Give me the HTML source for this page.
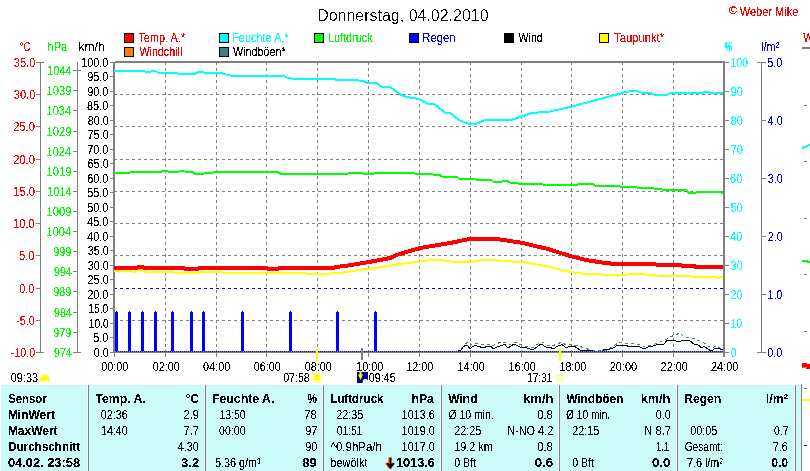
<!DOCTYPE html>
<html lang="de"><head><meta charset="utf-8"><title>Donnerstag, 04.02.2010</title>
<style>html,body{margin:0;padding:0;background:#fff;overflow:hidden}svg{display:block}text{font-family:"Liberation Sans",sans-serif;font-size:12px;white-space:pre}</style></head><body>
<svg width="810" height="471" viewBox="0 0 810 471">
<defs><filter id="cr" x="-5%" y="-20%" width="110%" height="140%" color-interpolation-filters="sRGB"><feComponentTransfer><feFuncA type="discrete" tableValues="0 0 1 1 1"/></feComponentTransfer></filter><filter id="cr2" x="-5%" y="-20%" width="110%" height="140%" color-interpolation-filters="sRGB"><feComponentTransfer><feFuncA type="discrete" tableValues="0 0 0 1 1"/></feComponentTransfer></filter></defs>
<rect x="0" y="0" width="810" height="471" fill="#ffffff" />
<g shape-rendering="crispEdges">
<line x1="165.5" y1="63" x2="165.5" y2="352" stroke="#808080" stroke-width="1" stroke-dasharray="3 3" stroke-dashoffset="1"/>
<line x1="216.5" y1="63" x2="216.5" y2="352" stroke="#808080" stroke-width="1" stroke-dasharray="3 3" stroke-dashoffset="1"/>
<line x1="266.5" y1="63" x2="266.5" y2="352" stroke="#808080" stroke-width="1" stroke-dasharray="3 3" stroke-dashoffset="1"/>
<line x1="317.5" y1="63" x2="317.5" y2="352" stroke="#808080" stroke-width="1" stroke-dasharray="3 3" stroke-dashoffset="1"/>
<line x1="368.5" y1="63" x2="368.5" y2="352" stroke="#808080" stroke-width="1" stroke-dasharray="3 3" stroke-dashoffset="1"/>
<line x1="419.5" y1="63" x2="419.5" y2="352" stroke="#808080" stroke-width="1" stroke-dasharray="3 3" stroke-dashoffset="1"/>
<line x1="470.5" y1="63" x2="470.5" y2="352" stroke="#808080" stroke-width="1" stroke-dasharray="3 3" stroke-dashoffset="1"/>
<line x1="521.5" y1="63" x2="521.5" y2="352" stroke="#808080" stroke-width="1" stroke-dasharray="3 3" stroke-dashoffset="1"/>
<line x1="571.5" y1="63" x2="571.5" y2="352" stroke="#808080" stroke-width="1" stroke-dasharray="3 3" stroke-dashoffset="1"/>
<line x1="622.5" y1="63" x2="622.5" y2="352" stroke="#808080" stroke-width="1" stroke-dasharray="3 3" stroke-dashoffset="1"/>
<line x1="673.5" y1="63" x2="673.5" y2="352" stroke="#808080" stroke-width="1" stroke-dasharray="3 3" stroke-dashoffset="1"/>
<line x1="115" y1="94.5" x2="723" y2="94.5" stroke="#808080" stroke-width="1" stroke-dasharray="3 3" stroke-dashoffset="1"/>
<line x1="115" y1="126.5" x2="723" y2="126.5" stroke="#808080" stroke-width="1" stroke-dasharray="3 3" stroke-dashoffset="1"/>
<line x1="115" y1="159.5" x2="723" y2="159.5" stroke="#808080" stroke-width="1" stroke-dasharray="3 3" stroke-dashoffset="1"/>
<line x1="115" y1="191.5" x2="723" y2="191.5" stroke="#808080" stroke-width="1" stroke-dasharray="3 3" stroke-dashoffset="1"/>
<line x1="115" y1="223.5" x2="723" y2="223.5" stroke="#808080" stroke-width="1" stroke-dasharray="3 3" stroke-dashoffset="1"/>
<line x1="115" y1="255.5" x2="723" y2="255.5" stroke="#808080" stroke-width="1" stroke-dasharray="3 3" stroke-dashoffset="1"/>
<line x1="115" y1="288.5" x2="723" y2="288.5" stroke="#0000ff" stroke-width="1" stroke-dasharray="3 3" stroke-dashoffset="1"/>
<line x1="115" y1="320.5" x2="723" y2="320.5" stroke="#808080" stroke-width="1" stroke-dasharray="3 3" stroke-dashoffset="1"/>
<rect x="40" y="62" width="1" height="291" fill="#808080" />
<rect x="36" y="352" width="8" height="1" fill="#808080" />
<rect x="36" y="320" width="4" height="1" fill="#808080" />
<rect x="36" y="288" width="4" height="1" fill="#808080" />
<rect x="36" y="255" width="4" height="1" fill="#808080" />
<rect x="36" y="223" width="4" height="1" fill="#808080" />
<rect x="36" y="191" width="4" height="1" fill="#808080" />
<rect x="36" y="159" width="4" height="1" fill="#808080" />
<rect x="36" y="126" width="4" height="1" fill="#808080" />
<rect x="36" y="94" width="4" height="1" fill="#808080" />
<rect x="36" y="62" width="8" height="1" fill="#808080" />
<rect x="77" y="62" width="1" height="291" fill="#808080" />
<rect x="73" y="352" width="8" height="1" fill="#808080" />
<rect x="73" y="332" width="4" height="1" fill="#808080" />
<rect x="73" y="312" width="4" height="1" fill="#808080" />
<rect x="73" y="291" width="4" height="1" fill="#808080" />
<rect x="73" y="271" width="4" height="1" fill="#808080" />
<rect x="73" y="251" width="4" height="1" fill="#808080" />
<rect x="73" y="231" width="4" height="1" fill="#808080" />
<rect x="73" y="211" width="4" height="1" fill="#808080" />
<rect x="73" y="191" width="4" height="1" fill="#808080" />
<rect x="73" y="171" width="4" height="1" fill="#808080" />
<rect x="73" y="151" width="4" height="1" fill="#808080" />
<rect x="73" y="131" width="4" height="1" fill="#808080" />
<rect x="73" y="110" width="4" height="1" fill="#808080" />
<rect x="73" y="90" width="4" height="1" fill="#808080" />
<rect x="73" y="70" width="8" height="1" fill="#808080" />
<rect x="110" y="352" width="3" height="1" fill="#808080" />
<rect x="110" y="337" width="3" height="1" fill="#808080" />
<rect x="110" y="323" width="3" height="1" fill="#808080" />
<rect x="110" y="308" width="3" height="1" fill="#808080" />
<rect x="110" y="294" width="3" height="1" fill="#808080" />
<rect x="110" y="279" width="3" height="1" fill="#808080" />
<rect x="110" y="265" width="3" height="1" fill="#808080" />
<rect x="110" y="250" width="3" height="1" fill="#808080" />
<rect x="110" y="236" width="3" height="1" fill="#808080" />
<rect x="110" y="221" width="3" height="1" fill="#808080" />
<rect x="110" y="207" width="3" height="1" fill="#808080" />
<rect x="110" y="192" width="3" height="1" fill="#808080" />
<rect x="110" y="178" width="3" height="1" fill="#808080" />
<rect x="110" y="163" width="3" height="1" fill="#808080" />
<rect x="110" y="149" width="3" height="1" fill="#808080" />
<rect x="110" y="134" width="3" height="1" fill="#808080" />
<rect x="110" y="120" width="3" height="1" fill="#808080" />
<rect x="110" y="105" width="3" height="1" fill="#808080" />
<rect x="110" y="91" width="3" height="1" fill="#808080" />
<rect x="110" y="76" width="3" height="1" fill="#808080" />
<rect x="110" y="62" width="3" height="1" fill="#808080" />
<rect x="725" y="352" width="4" height="1" fill="#808080" />
<rect x="725" y="323" width="4" height="1" fill="#808080" />
<rect x="725" y="294" width="4" height="1" fill="#808080" />
<rect x="725" y="265" width="4" height="1" fill="#808080" />
<rect x="725" y="236" width="4" height="1" fill="#808080" />
<rect x="725" y="207" width="4" height="1" fill="#808080" />
<rect x="725" y="178" width="4" height="1" fill="#808080" />
<rect x="725" y="149" width="4" height="1" fill="#808080" />
<rect x="725" y="120" width="4" height="1" fill="#808080" />
<rect x="725" y="91" width="4" height="1" fill="#808080" />
<rect x="725" y="62" width="4" height="1" fill="#808080" />
<rect x="761" y="62" width="1" height="291" fill="#808080" />
<rect x="757" y="352" width="9" height="1" fill="#808080" />
<rect x="762" y="294" width="4" height="1" fill="#808080" />
<rect x="762" y="236" width="4" height="1" fill="#808080" />
<rect x="762" y="178" width="4" height="1" fill="#808080" />
<rect x="762" y="120" width="4" height="1" fill="#808080" />
<rect x="757" y="62" width="9" height="1" fill="#808080" />
<rect x="114" y="353" width="1" height="4" fill="#808080" />
<rect x="165" y="353" width="1" height="4" fill="#808080" />
<rect x="216" y="353" width="1" height="4" fill="#808080" />
<rect x="266" y="353" width="1" height="4" fill="#808080" />
<rect x="317" y="353" width="1" height="4" fill="#808080" />
<rect x="368" y="353" width="1" height="4" fill="#808080" />
<rect x="419" y="353" width="1" height="4" fill="#808080" />
<rect x="470" y="353" width="1" height="4" fill="#808080" />
<rect x="521" y="353" width="1" height="4" fill="#808080" />
<rect x="571" y="353" width="1" height="4" fill="#808080" />
<rect x="622" y="353" width="1" height="4" fill="#808080" />
<rect x="673" y="353" width="1" height="4" fill="#808080" />
<rect x="724" y="353" width="1" height="4" fill="#808080" />
</g>
<g shape-rendering="crispEdges">
<rect x="113" y="62" width="2" height="291" fill="#808080" />
</g>
<g shape-rendering="crispEdges" stroke-linejoin="round">
<rect x="115.0" y="312" width="3" height="40" fill="#0000ff" />
<rect x="116.0" y="311" width="1" height="1" fill="#0000ff" />
<rect x="128.0" y="312" width="3" height="40" fill="#0000ff" />
<rect x="129.0" y="311" width="1" height="1" fill="#0000ff" />
<rect x="141.0" y="312" width="3" height="40" fill="#0000ff" />
<rect x="142.0" y="311" width="1" height="1" fill="#0000ff" />
<rect x="154.0" y="312" width="3" height="40" fill="#0000ff" />
<rect x="155.0" y="311" width="1" height="1" fill="#0000ff" />
<rect x="171.0" y="312" width="3" height="40" fill="#0000ff" />
<rect x="172.0" y="311" width="1" height="1" fill="#0000ff" />
<rect x="190.0" y="312" width="3" height="40" fill="#0000ff" />
<rect x="191.0" y="311" width="1" height="1" fill="#0000ff" />
<rect x="202.0" y="312" width="3" height="40" fill="#0000ff" />
<rect x="203.0" y="311" width="1" height="1" fill="#0000ff" />
<rect x="241.0" y="312" width="3" height="40" fill="#0000ff" />
<rect x="242.0" y="311" width="1" height="1" fill="#0000ff" />
<rect x="289.0" y="312" width="3" height="40" fill="#0000ff" />
<rect x="290.0" y="311" width="1" height="1" fill="#0000ff" />
<rect x="336.0" y="312" width="3" height="40" fill="#0000ff" />
<rect x="337.0" y="311" width="1" height="1" fill="#0000ff" />
<rect x="374.0" y="312" width="3" height="40" fill="#0000ff" />
<rect x="375.0" y="311" width="1" height="1" fill="#0000ff" />
<polyline points="462,349 465,344 468,342 472,345 476,343 482,345 487,344 492,346 496,344 501,342 506,343 510,345 514,342 519,344 524,346 530,347 534,347 538,344 542,342 547,345 552,346 557,344 562,342 566,345 571,344 578,346 585,348 590,350 600,351 608,350 612,347 615,345 619,342.5 625,343.5 635,344 640,344 644,347 650,345.5 655,344 660,342 665,340 670,337 675,335 680,333 684,337 690,337.5 695,339 700,341 704,343 708,346 712,348 716,346 720,348 723,348" fill="none" stroke="#408080" stroke-width="1" stroke-dasharray="3 3"/>
<polyline points="445,351.5 458,351 461,350 463,347 466,345 468,346 470,349 472,347 475,345.5 479,346.5 482,347.5 485,347.5 487,346 491,346 493,349 496,347.5 500,346 505,344.5 508,348 511,346 514,344 517,345.5 520,347 527,348 533,350 537,347 541,344 546,347 550,347 553,349 558,346 562,344.5 566,348 570,346 573,346 575,346.5 577,348 580,350 584,351 590,350 594,351.5 602,351.5 604,349.5 609,349.5 613,348 618,345 625,345.5 630,346.5 634,346.5 638,346 644,349 648,347 652,346.5 657,344.5 664,344 667,340.5 673,340 677,341.5 681,341 685,340 690,341 694,344 698,345 702,348 704,346 707,348.5 711,351 716,348 720,349 723,349.5" fill="none" stroke="#000000" stroke-width="1" />
<rect x="113" y="351" width="612" height="2" fill="#808080" />
<line x1="116" y1="351.5" x2="723" y2="351.5" stroke="#0000ff" stroke-width="1" stroke-dasharray="1 1"/>
<polyline points="114,71 144,71 146,72 150,72 152,71 155,71 158,72.5 160,73 177,73 179,74 195,74 198,72 203,72 205,73 221,73 224,74 228,75 230,75.5 283,75.5 287,77.5 292,78.5 333,78.5 338,80.5 342,80 358,80 360,81 364,81 367,83 377,83.5 381,86.5 390,87 401,95 407,97 416,98.5 421,100 428,104 434,104 445,112.5 450,113 459,120 469,124 476,124 484,120.5 511,120 532,113 550,111.5 574,106 600,99 622,93 629,91.5 637,91 642,93 651,93 655,95 667,95 670,93.5 690,93 700,93 707,92 712,93 723,93.5" fill="none" stroke="#00ffff" stroke-width="2" />
<polyline points="114,173 129,173 131,172 161,172 163,171 167,171 169,172 178,172 180,171 184,171 186,172 193,172 195,174 203,174 205,173 212,173 214,172 278,172 281,174 310,174 347,174 349,173 362,173 364,174 373,174 375,173 414,173 416,174 432,174 434,175 440,175 442,176.5 457,176.5 459,178.5 474,178.5 476,179.5 491,179.5 493,181.5 502,181.5 504,181 508,181 510,182.5 516,182.5 518,183.5 541,183.5 543,184.5 578,184.5 580,184 593,184 595,185.5 618,185.5 620,186.5 635,186.5 637,187.5 652,187.5 654,188.5 660,188.5 662,189.5 686,189.5 688,192.5 696,192.5 698,191.5 719,191.5 721,192.5 723,192.5" fill="none" stroke="#00ff00" stroke-width="2" />
<polyline points="114,271 131,271 132,271.5 136,271.5 137,270 143,270 144,271.5 174,271.5 175,272.5 200,272.5 201,271.5 222,271.5 223,272.5 256,272.5 257,273 305,273 306,273.5 331,273.5 332,272.5 344,272.5 359,270 371,268.5 388,266 404,263.5 420,261.5 432,260 440,260 455,262 471,262 480,260.5 489,259.5 503,261 523,262 548,266.5 570,272 582,273.5 596,274.5 600,273.5 602,274.5 627,274.5 629,273.5 644,273.5 646,274.5 655,274.5 657,275.5 690,275.5 692,276.5 715,276.5 717,277.5 720,277.5 722,276.5 723,276.5" fill="none" stroke="#ffff00" stroke-width="2" />
<polyline points="114,268 137,268 138,267 143,267 144,268 184,268 185,269 198,269 199,268 267,268 268,269 278,269 279,268 334,268 335,267 345,266 363,263 380,260 390,258 398,254.5 420,248 435,245.5 450,243 460,241 469,239 497,239 510,241 523,243 535,246 548,249 570,256 586,260 602,262.5 619,264.5 623,264 655,264 656,264.5 680,264.5 681,265.5 694,265.5 695,267 723,267" fill="none" stroke="#ff0000" stroke-width="4" />
</g>
<g shape-rendering="crispEdges">
<rect x="115" y="61" width="610" height="2" fill="#808080" />
<rect x="723" y="61" width="2" height="296" fill="#808080" />
<rect x="316" y="348" width="2" height="13" fill="#ffff00" />
<rect x="361" y="348" width="2" height="12" fill="#808080" />
<rect x="559" y="348" width="2" height="13" fill="#ffff00" />
</g>
<text x="317.17" y="21.0" fill="#000000" style="font-size:16px" textLength="171.45" lengthAdjust="spacingAndGlyphs" filter="url(#cr2)">Donnerstag, 04.02.2010</text>
<text x="728.80" y="13.8" fill="#ff0000" style="font-size:11px" textLength="8.74" lengthAdjust="spacingAndGlyphs" filter="url(#cr)">©</text>
<text x="739.80" y="16.0" fill="#ff0000" textLength="58.56" lengthAdjust="spacingAndGlyphs" filter="url(#cr)">Weber Mike</text>
<rect x="124.5" y="33.5" width="9" height="9" fill="#ff0000" stroke="#000" stroke-width="1" shape-rendering="crispEdges"/>
<text x="138.42" y="42.0" fill="#ff0000" textLength="46.73" lengthAdjust="spacingAndGlyphs" filter="url(#cr)">Temp. A.*</text>
<rect x="219.5" y="33.5" width="9" height="9" fill="#00ffff" stroke="#000" stroke-width="1" shape-rendering="crispEdges"/>
<text x="232.19" y="42.0" fill="#00ffff" textLength="56.54" lengthAdjust="spacingAndGlyphs" filter="url(#cr)">Feuchte A.*</text>
<rect x="314.5" y="33.5" width="9" height="9" fill="#00ff00" stroke="#000" stroke-width="1" shape-rendering="crispEdges"/>
<text x="327.90" y="42.0" fill="#00ff00" textLength="44.67" lengthAdjust="spacingAndGlyphs" filter="url(#cr)">Luftdruck</text>
<rect x="409.5" y="33.5" width="9" height="9" fill="#0000ff" stroke="#000" stroke-width="1" shape-rendering="crispEdges"/>
<text x="422.36" y="42.0" fill="#0000ff" textLength="33.15" lengthAdjust="spacingAndGlyphs" filter="url(#cr)">Regen</text>
<rect x="504.5" y="33.5" width="9" height="9" fill="#000000" stroke="#000" stroke-width="1" shape-rendering="crispEdges"/>
<text x="518.60" y="42.0" fill="#000000" textLength="24.15" lengthAdjust="spacingAndGlyphs" filter="url(#cr)">Wind</text>
<rect x="599.5" y="33.5" width="9" height="9" fill="#ffff00" stroke="#000" stroke-width="1" shape-rendering="crispEdges"/>
<text x="614.21" y="42.0" fill="#ff0000" textLength="49.85" lengthAdjust="spacingAndGlyphs" filter="url(#cr)">Taupunkt*</text>
<rect x="124.5" y="47.5" width="9" height="9" fill="#ff8000" stroke="#000" stroke-width="1" shape-rendering="crispEdges"/>
<text x="139.40" y="56.0" fill="#ff0000" textLength="42.92" lengthAdjust="spacingAndGlyphs" filter="url(#cr)">Windchill</text>
<rect x="219.5" y="47.5" width="9" height="9" fill="#408080" stroke="#000" stroke-width="1" shape-rendering="crispEdges"/>
<text x="233.10" y="56.0" fill="#000000" textLength="52.58" lengthAdjust="spacingAndGlyphs" filter="url(#cr)">Windböen*</text>
<text x="19.40" y="51.0" fill="#ff0000" textLength="11.49" lengthAdjust="spacingAndGlyphs" filter="url(#cr)">°C</text>
<text x="47.57" y="51.0" fill="#00ff00" textLength="19.59" lengthAdjust="spacingAndGlyphs" filter="url(#cr)">hPa</text>
<text x="78.50" y="51.0" fill="#000000" textLength="26.11" lengthAdjust="spacingAndGlyphs" filter="url(#cr)">km/h</text>
<text transform="translate(724.6,51) scale(0.68,1)" fill="#00ffff" stroke="#00ffff" stroke-width="0.15" filter="url(#cr)">%</text>
<text x="761.07" y="51.0" fill="#0000ff" textLength="18.31" lengthAdjust="spacingAndGlyphs" filter="url(#cr)">l/m²</text>
<text x="10.86" y="357.0" fill="#ff0000" textLength="24.24" lengthAdjust="spacingAndGlyphs" filter="url(#cr)">-10.0</text>
<text x="16.15" y="325.0" fill="#ff0000" textLength="18.79" lengthAdjust="spacingAndGlyphs" filter="url(#cr)">-5.0</text>
<text x="19.13" y="293.0" fill="#ff0000" textLength="15.41" lengthAdjust="spacingAndGlyphs" filter="url(#cr)">0.0</text>
<text x="19.04" y="260.0" fill="#ff0000" textLength="15.51" lengthAdjust="spacingAndGlyphs" filter="url(#cr)">5.0</text>
<text x="13.07" y="228.0" fill="#ff0000" textLength="21.66" lengthAdjust="spacingAndGlyphs" filter="url(#cr)">10.0</text>
<text x="13.27" y="196.0" fill="#ff0000" textLength="21.66" lengthAdjust="spacingAndGlyphs" filter="url(#cr)">15.0</text>
<text x="13.14" y="164.0" fill="#ff0000" textLength="21.78" lengthAdjust="spacingAndGlyphs" filter="url(#cr)">20.0</text>
<text x="13.14" y="131.0" fill="#ff0000" textLength="21.78" lengthAdjust="spacingAndGlyphs" filter="url(#cr)">25.0</text>
<text x="13.73" y="99.0" fill="#ff0000" textLength="21.59" lengthAdjust="spacingAndGlyphs" filter="url(#cr)">30.0</text>
<text x="13.73" y="67.0" fill="#ff0000" textLength="21.59" lengthAdjust="spacingAndGlyphs" filter="url(#cr)">35.0</text>
<text x="53.95" y="357.0" fill="#00ff00" textLength="17.82" lengthAdjust="spacingAndGlyphs" filter="url(#cr)">974</text>
<text x="53.35" y="337.0" fill="#00ff00" textLength="18.01" lengthAdjust="spacingAndGlyphs" filter="url(#cr)">979</text>
<text x="53.95" y="317.0" fill="#00ff00" textLength="17.82" lengthAdjust="spacingAndGlyphs" filter="url(#cr)">984</text>
<text x="53.35" y="296.0" fill="#00ff00" textLength="18.01" lengthAdjust="spacingAndGlyphs" filter="url(#cr)">989</text>
<text x="53.95" y="276.0" fill="#00ff00" textLength="17.82" lengthAdjust="spacingAndGlyphs" filter="url(#cr)">994</text>
<text x="53.35" y="256.0" fill="#00ff00" textLength="18.01" lengthAdjust="spacingAndGlyphs" filter="url(#cr)">999</text>
<text x="46.57" y="236.0" fill="#00ff00" textLength="24.59" lengthAdjust="spacingAndGlyphs" filter="url(#cr)">1004</text>
<text x="46.56" y="216.0" fill="#00ff00" textLength="24.79" lengthAdjust="spacingAndGlyphs" filter="url(#cr)">1009</text>
<text x="47.17" y="196.0" fill="#00ff00" textLength="24.59" lengthAdjust="spacingAndGlyphs" filter="url(#cr)">1014</text>
<text x="46.56" y="176.0" fill="#00ff00" textLength="24.79" lengthAdjust="spacingAndGlyphs" filter="url(#cr)">1019</text>
<text x="46.57" y="156.0" fill="#00ff00" textLength="24.59" lengthAdjust="spacingAndGlyphs" filter="url(#cr)">1024</text>
<text x="46.56" y="136.0" fill="#00ff00" textLength="24.79" lengthAdjust="spacingAndGlyphs" filter="url(#cr)">1029</text>
<text x="46.57" y="115.0" fill="#00ff00" textLength="24.59" lengthAdjust="spacingAndGlyphs" filter="url(#cr)">1034</text>
<text x="46.56" y="95.0" fill="#00ff00" textLength="24.79" lengthAdjust="spacingAndGlyphs" filter="url(#cr)">1039</text>
<text x="47.17" y="75.0" fill="#00ff00" textLength="24.59" lengthAdjust="spacingAndGlyphs" filter="url(#cr)">1044</text>
<text x="93.85" y="357.0" fill="#000000" textLength="14.78" lengthAdjust="spacingAndGlyphs" filter="url(#cr)">0.0</text>
<text x="93.35" y="342.0" fill="#000000" textLength="14.87" lengthAdjust="spacingAndGlyphs" filter="url(#cr)">5.0</text>
<text x="88.73" y="328.0" fill="#000000" textLength="19.85" lengthAdjust="spacingAndGlyphs" filter="url(#cr)">10.0</text>
<text x="88.33" y="313.0" fill="#000000" textLength="19.85" lengthAdjust="spacingAndGlyphs" filter="url(#cr)">15.0</text>
<text x="87.15" y="299.0" fill="#000000" textLength="21.26" lengthAdjust="spacingAndGlyphs" filter="url(#cr)">20.0</text>
<text x="87.55" y="284.0" fill="#000000" textLength="21.26" lengthAdjust="spacingAndGlyphs" filter="url(#cr)">25.0</text>
<text x="87.74" y="270.0" fill="#000000" textLength="21.07" lengthAdjust="spacingAndGlyphs" filter="url(#cr)">30.0</text>
<text x="87.74" y="255.0" fill="#000000" textLength="21.07" lengthAdjust="spacingAndGlyphs" filter="url(#cr)">35.0</text>
<text x="87.23" y="241.0" fill="#000000" textLength="20.98" lengthAdjust="spacingAndGlyphs" filter="url(#cr)">40.0</text>
<text x="87.23" y="226.0" fill="#000000" textLength="20.98" lengthAdjust="spacingAndGlyphs" filter="url(#cr)">45.0</text>
<text x="87.25" y="212.0" fill="#000000" textLength="21.17" lengthAdjust="spacingAndGlyphs" filter="url(#cr)">50.0</text>
<text x="87.25" y="197.0" fill="#000000" textLength="21.17" lengthAdjust="spacingAndGlyphs" filter="url(#cr)">55.0</text>
<text x="87.15" y="183.0" fill="#000000" textLength="21.26" lengthAdjust="spacingAndGlyphs" filter="url(#cr)">60.0</text>
<text x="87.55" y="168.0" fill="#000000" textLength="21.26" lengthAdjust="spacingAndGlyphs" filter="url(#cr)">65.0</text>
<text x="87.15" y="154.0" fill="#000000" textLength="21.26" lengthAdjust="spacingAndGlyphs" filter="url(#cr)">70.0</text>
<text x="87.55" y="139.0" fill="#000000" textLength="21.26" lengthAdjust="spacingAndGlyphs" filter="url(#cr)">75.0</text>
<text x="87.65" y="125.0" fill="#000000" textLength="21.17" lengthAdjust="spacingAndGlyphs" filter="url(#cr)">80.0</text>
<text x="87.05" y="110.0" fill="#000000" textLength="21.17" lengthAdjust="spacingAndGlyphs" filter="url(#cr)">85.0</text>
<text x="87.25" y="96.0" fill="#000000" textLength="21.17" lengthAdjust="spacingAndGlyphs" filter="url(#cr)">90.0</text>
<text x="87.25" y="81.0" fill="#000000" textLength="21.17" lengthAdjust="spacingAndGlyphs" filter="url(#cr)">95.0</text>
<text x="81.18" y="67.0" fill="#000000" textLength="27.20" lengthAdjust="spacingAndGlyphs" filter="url(#cr)">100.0</text>
<text x="730.65" y="357.0" fill="#00ffff" textLength="5.87" lengthAdjust="spacingAndGlyphs" filter="url(#cr)">0</text>
<text x="730.40" y="328.0" fill="#00ffff" textLength="11.90" lengthAdjust="spacingAndGlyphs" filter="url(#cr)">10</text>
<text x="730.25" y="299.0" fill="#00ffff" textLength="12.26" lengthAdjust="spacingAndGlyphs" filter="url(#cr)">20</text>
<text x="730.64" y="270.0" fill="#00ffff" textLength="12.07" lengthAdjust="spacingAndGlyphs" filter="url(#cr)">30</text>
<text x="730.33" y="241.0" fill="#00ffff" textLength="11.97" lengthAdjust="spacingAndGlyphs" filter="url(#cr)">40</text>
<text x="730.74" y="212.0" fill="#00ffff" textLength="12.16" lengthAdjust="spacingAndGlyphs" filter="url(#cr)">50</text>
<text x="730.05" y="183.0" fill="#00ffff" textLength="12.26" lengthAdjust="spacingAndGlyphs" filter="url(#cr)">60</text>
<text x="730.65" y="154.0" fill="#00ffff" textLength="12.26" lengthAdjust="spacingAndGlyphs" filter="url(#cr)">70</text>
<text x="730.74" y="125.0" fill="#00ffff" textLength="12.16" lengthAdjust="spacingAndGlyphs" filter="url(#cr)">80</text>
<text x="730.74" y="96.0" fill="#00ffff" textLength="12.16" lengthAdjust="spacingAndGlyphs" filter="url(#cr)">90</text>
<text x="730.84" y="67.0" fill="#00ffff" textLength="17.01" lengthAdjust="spacingAndGlyphs" filter="url(#cr)">100</text>
<text x="767.24" y="357.0" fill="#0000ff" textLength="14.99" lengthAdjust="spacingAndGlyphs" filter="url(#cr)">0.0</text>
<text x="767.81" y="299.0" fill="#0000ff" textLength="14.61" lengthAdjust="spacingAndGlyphs" filter="url(#cr)">1.0</text>
<text x="767.65" y="241.0" fill="#0000ff" textLength="15.18" lengthAdjust="spacingAndGlyphs" filter="url(#cr)">2.0</text>
<text x="767.84" y="183.0" fill="#0000ff" textLength="14.99" lengthAdjust="spacingAndGlyphs" filter="url(#cr)">3.0</text>
<text x="767.73" y="125.0" fill="#0000ff" textLength="14.90" lengthAdjust="spacingAndGlyphs" filter="url(#cr)">4.0</text>
<text x="767.15" y="67.0" fill="#0000ff" textLength="15.09" lengthAdjust="spacingAndGlyphs" filter="url(#cr)">5.0</text>
<text x="101.24" y="371.0" fill="#000000" textLength="27.15" lengthAdjust="spacingAndGlyphs" filter="url(#cr)">00:00</text>
<text x="152.67" y="371.0" fill="#000000" textLength="27.15" lengthAdjust="spacingAndGlyphs" filter="url(#cr)">02:00</text>
<text x="203.10" y="371.0" fill="#000000" textLength="27.15" lengthAdjust="spacingAndGlyphs" filter="url(#cr)">04:00</text>
<text x="253.73" y="371.0" fill="#000000" textLength="27.15" lengthAdjust="spacingAndGlyphs" filter="url(#cr)">06:00</text>
<text x="304.76" y="370.7" fill="#000000" textLength="27.15" lengthAdjust="spacingAndGlyphs" filter="url(#cr)">08:00</text>
<text x="356.35" y="370.7" fill="#000000" textLength="26.78" lengthAdjust="spacingAndGlyphs" filter="url(#cr)">10:00</text>
<text x="406.38" y="371.0" fill="#000000" textLength="26.78" lengthAdjust="spacingAndGlyphs" filter="url(#cr)">12:00</text>
<text x="457.81" y="371.0" fill="#000000" textLength="26.78" lengthAdjust="spacingAndGlyphs" filter="url(#cr)">14:00</text>
<text x="508.84" y="370.7" fill="#000000" textLength="26.78" lengthAdjust="spacingAndGlyphs" filter="url(#cr)">16:00</text>
<text x="559.47" y="371.0" fill="#000000" textLength="26.78" lengthAdjust="spacingAndGlyphs" filter="url(#cr)">18:00</text>
<text x="609.75" y="371.0" fill="#000000" textLength="27.34" lengthAdjust="spacingAndGlyphs" filter="url(#cr)">20:00</text>
<text x="660.58" y="371.0" fill="#000000" textLength="27.34" lengthAdjust="spacingAndGlyphs" filter="url(#cr)">22:00</text>
<text x="711.01" y="371.0" fill="#000000" textLength="27.34" lengthAdjust="spacingAndGlyphs" filter="url(#cr)">24:00</text>
<text x="10.84" y="382.0" fill="#000000" textLength="27.15" lengthAdjust="spacingAndGlyphs" filter="url(#cr)">09:33</text>
<text x="283.15" y="382.0" fill="#000000" textLength="26.63" lengthAdjust="spacingAndGlyphs" filter="url(#cr)">07:58</text>
<text x="368.84" y="382.0" fill="#000000" textLength="26.74" lengthAdjust="spacingAndGlyphs" filter="url(#cr)">09:45</text>
<text x="527.25" y="382.0" fill="#000000" textLength="25.09" lengthAdjust="spacingAndGlyphs" filter="url(#cr)">17:31</text>
<path d="M40 381.2 L40 378.5 Q40.4 375.4 43 374.9 L46.2 374.9 Q48.8 375.4 49.3 378.5 L49.3 381.2 Z" fill="#ffff00"/>
<polygon points="322.1,377.8 320.6,381.4 317.0,382.9 313.4,381.4 311.9,377.8 313.4,374.2 317.0,372.7 320.6,374.2" fill="none" stroke="#ffff8c" stroke-width="1.3"/>
<g stroke="#ffff8c" stroke-width="1.2">
<line x1="319.8" y1="378.9" x2="321.6" y2="379.7"/>
<line x1="318.1" y1="380.6" x2="318.9" y2="382.4"/>
<line x1="315.9" y1="380.6" x2="315.1" y2="382.4"/>
<line x1="314.2" y1="378.9" x2="312.4" y2="379.7"/>
<line x1="314.2" y1="376.7" x2="312.4" y2="375.9"/>
<line x1="315.9" y1="375.0" x2="315.1" y2="373.2"/>
<line x1="318.1" y1="375.0" x2="318.9" y2="373.2"/>
<line x1="319.8" y1="376.7" x2="321.6" y2="375.9"/>
</g>
<circle cx="317" cy="377.7" r="3.2" fill="#ffff00"/>
<g shape-rendering="crispEdges">
<rect x="357" y="372" width="11" height="11" fill="#00008c" />
</g>
<path d="M359.5 372 h2 v2.5 h1.5 l-2.5 5.5 l-2.5 -5.5 h1.5 z" fill="#ffff00"/>
<path d="M362.5 383 a3 3.6 0 0 1 5.5 -2.5 V383 Z" fill="#ffffff"/>
<rect x="557.5" y="375.5" width="5" height="5" fill="none" stroke="#ffff40" stroke-width="1" shape-rendering="crispEdges"/>
<g shape-rendering="crispEdges">
<rect x="1" y="385" width="793" height="86" fill="#ccfcf9" />
<rect x="796" y="385" width="5" height="86" fill="#ccfcf9" />
<rect x="87" y="385" width="1" height="86" fill="#ffffff" />
<rect x="88" y="385" width="1" height="86" fill="#808080" />
<rect x="204" y="385" width="1" height="86" fill="#ffffff" />
<rect x="205" y="385" width="1" height="86" fill="#808080" />
<rect x="322" y="385" width="1" height="86" fill="#ffffff" />
<rect x="323" y="385" width="1" height="86" fill="#808080" />
<rect x="440" y="385" width="1" height="86" fill="#ffffff" />
<rect x="441" y="385" width="1" height="86" fill="#808080" />
<rect x="558" y="385" width="1" height="86" fill="#ffffff" />
<rect x="559" y="385" width="1" height="86" fill="#808080" />
<rect x="676" y="385" width="1" height="86" fill="#ffffff" />
<rect x="677" y="385" width="1" height="86" fill="#808080" />
<rect x="795" y="385" width="1" height="86" fill="#808080" />
<rect x="801" y="384" width="1" height="87" fill="#808080" />
</g>
<text x="8.22" y="403.0" fill="#000000" font-weight="bold" textLength="38.35" lengthAdjust="spacingAndGlyphs" filter="url(#cr)">Sensor</text>
<text x="7.90" y="419.0" fill="#000000" font-weight="bold" textLength="47.01" lengthAdjust="spacingAndGlyphs" filter="url(#cr)">MinWert</text>
<text x="7.90" y="435.0" fill="#000000" font-weight="bold" textLength="49.69" lengthAdjust="spacingAndGlyphs" filter="url(#cr)">MaxWert</text>
<text x="8.22" y="451.0" fill="#000000" font-weight="bold" textLength="71.88" lengthAdjust="spacingAndGlyphs" filter="url(#cr)">Durchschnitt</text>
<text x="8.07" y="467.0" fill="#000000" font-weight="bold" textLength="71.95" lengthAdjust="spacingAndGlyphs" filter="url(#cr)">04.02. 23:58</text>
<text x="95.60" y="403.0" fill="#000000" font-weight="bold" textLength="49.95" lengthAdjust="spacingAndGlyphs" filter="url(#cr)">Temp. A.</text>
<text x="185.71" y="403.0" fill="#000000" font-weight="bold" textLength="13.25" lengthAdjust="spacingAndGlyphs" filter="url(#cr)">°C</text>
<text x="100.84" y="419.0" fill="#000000" textLength="26.94" lengthAdjust="spacingAndGlyphs" filter="url(#cr)">02:36</text>
<text x="183.44" y="419.0" fill="#000000" textLength="15.50" lengthAdjust="spacingAndGlyphs" filter="url(#cr)">2.9</text>
<text x="101.00" y="435.0" fill="#000000" textLength="26.58" lengthAdjust="spacingAndGlyphs" filter="url(#cr)">14:40</text>
<text x="183.44" y="435.0" fill="#000000" textLength="15.50" lengthAdjust="spacingAndGlyphs" filter="url(#cr)">7.7</text>
<text x="177.83" y="451.0" fill="#000000" textLength="20.98" lengthAdjust="spacingAndGlyphs" filter="url(#cr)">4.30</text>
<text x="181.08" y="467.0" fill="#000000" font-weight="bold" textLength="18.05" lengthAdjust="spacingAndGlyphs" filter="url(#cr)">3.2</text>
<text x="211.98" y="403.0" fill="#000000" font-weight="bold" textLength="62.33" lengthAdjust="spacingAndGlyphs" filter="url(#cr)">Feuchte A.</text>
<text x="307.44" y="403.0" fill="#000000" font-weight="bold" textLength="9.40" lengthAdjust="spacingAndGlyphs" filter="url(#cr)">%</text>
<text x="219.42" y="419.0" fill="#000000" textLength="26.16" lengthAdjust="spacingAndGlyphs" filter="url(#cr)">13:50</text>
<text x="304.35" y="419.0" fill="#000000" textLength="12.26" lengthAdjust="spacingAndGlyphs" filter="url(#cr)">78</text>
<text x="219.05" y="435.0" fill="#000000" textLength="26.53" lengthAdjust="spacingAndGlyphs" filter="url(#cr)">00:00</text>
<text x="305.24" y="435.0" fill="#000000" textLength="12.26" lengthAdjust="spacingAndGlyphs" filter="url(#cr)">97</text>
<text x="305.24" y="451.0" fill="#000000" textLength="12.16" lengthAdjust="spacingAndGlyphs" filter="url(#cr)">90</text>
<text x="214.95" y="467.0" fill="#000000" textLength="45.72" lengthAdjust="spacingAndGlyphs" filter="url(#cr)">5.36 g/m³</text>
<text x="302.16" y="467.0" fill="#000000" font-weight="bold" textLength="14.62" lengthAdjust="spacingAndGlyphs" filter="url(#cr)">89</text>
<text x="330.13" y="403.0" fill="#000000" font-weight="bold" textLength="53.40" lengthAdjust="spacingAndGlyphs" filter="url(#cr)">Luftdruck</text>
<text x="411.70" y="403.0" fill="#000000" font-weight="bold" textLength="22.01" lengthAdjust="spacingAndGlyphs" filter="url(#cr)">hPa</text>
<text x="336.26" y="419.0" fill="#000000" textLength="27.13" lengthAdjust="spacingAndGlyphs" filter="url(#cr)">22:35</text>
<text x="401.79" y="419.0" fill="#000000" textLength="32.85" lengthAdjust="spacingAndGlyphs" filter="url(#cr)">1013.6</text>
<text x="336.65" y="435.0" fill="#000000" textLength="25.90" lengthAdjust="spacingAndGlyphs" filter="url(#cr)">01:51</text>
<text x="401.79" y="435.0" fill="#000000" textLength="32.85" lengthAdjust="spacingAndGlyphs" filter="url(#cr)">1019.0</text>
<text x="330.60" y="451.0" fill="#000000" textLength="51.23" lengthAdjust="spacingAndGlyphs" filter="url(#cr)">^0.9hPa/h</text>
<text x="401.79" y="451.0" fill="#000000" textLength="32.85" lengthAdjust="spacingAndGlyphs" filter="url(#cr)">1017.0</text>
<text x="330.37" y="467.0" fill="#000000" textLength="37.22" lengthAdjust="spacingAndGlyphs" filter="url(#cr)">bewölkt</text>
<rect x="386" y="457" width="8" height="12" fill="#e4ecec" shape-rendering="crispEdges"/>
<path d="M390 457.5 V467 M386.6 463.2 L390 467.6 L393.4 463.2" fill="none" stroke="#ff8000" stroke-width="2" transform="translate(-0.8,0)"/>
<path d="M390.5 457.5 V467 M387.1 463.2 L390.5 467.6 L393.9 463.2" fill="none" stroke="#000" stroke-width="2"/>
<text x="396.06" y="467.0" fill="#000000" font-weight="bold" textLength="38.87" lengthAdjust="spacingAndGlyphs" filter="url(#cr)">1013.6</text>
<text x="448.20" y="403.0" fill="#000000" font-weight="bold" textLength="29.32" lengthAdjust="spacingAndGlyphs" filter="url(#cr)">Wind</text>
<text x="523.34" y="403.0" fill="#000000" font-weight="bold" textLength="30.12" lengthAdjust="spacingAndGlyphs" filter="url(#cr)">km/h</text>
<text x="448.45" y="419.0" fill="#000000" textLength="45.13" lengthAdjust="spacingAndGlyphs" filter="url(#cr)">Ø 10 min.</text>
<text x="537.13" y="419.0" fill="#000000" textLength="15.63" lengthAdjust="spacingAndGlyphs" filter="url(#cr)">0.8</text>
<text x="454.26" y="435.0" fill="#000000" textLength="27.13" lengthAdjust="spacingAndGlyphs" filter="url(#cr)">22:25</text>
<text x="507.29" y="435.0" fill="#000000" textLength="45.93" lengthAdjust="spacingAndGlyphs" filter="url(#cr)">N-NO 4.2</text>
<text x="454.39" y="451.0" fill="#000000" textLength="38.21" lengthAdjust="spacingAndGlyphs" filter="url(#cr)">19.2 km</text>
<text x="537.13" y="451.0" fill="#000000" textLength="15.63" lengthAdjust="spacingAndGlyphs" filter="url(#cr)">0.8</text>
<text x="454.25" y="467.0" fill="#000000" textLength="21.62" lengthAdjust="spacingAndGlyphs" filter="url(#cr)">0 Bft</text>
<text x="534.85" y="467.0" fill="#000000" font-weight="bold" textLength="18.26" lengthAdjust="spacingAndGlyphs" filter="url(#cr)">0.6</text>
<text x="566.60" y="403.0" fill="#000000" font-weight="bold" textLength="56.66" lengthAdjust="spacingAndGlyphs" filter="url(#cr)">Windböen</text>
<text x="640.65" y="403.0" fill="#000000" font-weight="bold" textLength="29.70" lengthAdjust="spacingAndGlyphs" filter="url(#cr)">km/h</text>
<text x="566.06" y="419.0" fill="#000000" textLength="44.10" lengthAdjust="spacingAndGlyphs" filter="url(#cr)">Ø 10 min.</text>
<text x="655.85" y="419.0" fill="#000000" textLength="14.78" lengthAdjust="spacingAndGlyphs" filter="url(#cr)">0.0</text>
<text x="572.16" y="435.0" fill="#000000" textLength="27.03" lengthAdjust="spacingAndGlyphs" filter="url(#cr)">22:15</text>
<text x="644.37" y="435.0" fill="#000000" textLength="26.56" lengthAdjust="spacingAndGlyphs" filter="url(#cr)">N 8.7</text>
<text x="656.00" y="451.0" fill="#000000" textLength="13.06" lengthAdjust="spacingAndGlyphs" filter="url(#cr)">1.1</text>
<text x="572.35" y="467.0" fill="#000000" textLength="21.62" lengthAdjust="spacingAndGlyphs" filter="url(#cr)">0 Bft</text>
<text x="652.05" y="467.0" fill="#000000" font-weight="bold" textLength="18.28" lengthAdjust="spacingAndGlyphs" filter="url(#cr)">0.0</text>
<text x="684.19" y="403.0" fill="#000000" font-weight="bold" textLength="37.09" lengthAdjust="spacingAndGlyphs" filter="url(#cr)">Regen</text>
<text x="765.77" y="403.0" fill="#000000" font-weight="bold" textLength="22.18" lengthAdjust="spacingAndGlyphs" filter="url(#cr)">l/m²</text>
<text x="690.34" y="435.0" fill="#000000" textLength="27.05" lengthAdjust="spacingAndGlyphs" filter="url(#cr)">00:05</text>
<text x="773.95" y="435.0" fill="#000000" textLength="14.66" lengthAdjust="spacingAndGlyphs" filter="url(#cr)">0.7</text>
<text x="684.69" y="451.0" fill="#000000" textLength="38.29" lengthAdjust="spacingAndGlyphs" filter="url(#cr)">Gesamt:</text>
<text x="772.97" y="451.0" fill="#000000" textLength="14.76" lengthAdjust="spacingAndGlyphs" filter="url(#cr)">7.6</text>
<text x="687.06" y="467.0" fill="#000000" textLength="35.82" lengthAdjust="spacingAndGlyphs" filter="url(#cr)">7.6 l/m²</text>
<text x="771.20" y="467.0" fill="#000000" font-weight="bold" textLength="16.79" lengthAdjust="spacingAndGlyphs" filter="url(#cr)">0.0</text>
<text x="803.20" y="42.0" fill="#ff0000" textLength="10.08" lengthAdjust="spacingAndGlyphs" filter="url(#cr)">W</text>
<g shape-rendering="crispEdges">
<rect x="802" y="47" width="8" height="2" fill="#808080" />
<rect x="804" y="105" width="3" height="1" fill="#808080" />
<rect x="804" y="161" width="3" height="1" fill="#808080" />
<rect x="804" y="218" width="3" height="1" fill="#808080" />
<rect x="804" y="274" width="3" height="1" fill="#808080" />
<rect x="804" y="331" width="3" height="1" fill="#808080" />
<rect x="804" y="388" width="3" height="1" fill="#808080" />
<rect x="804" y="445" width="3" height="1" fill="#0000ff" />
<rect x="802" y="399" width="8" height="2" fill="#ffff00" />
</g>
<polyline points="802,148 805,147 808,145.5 810,144.5" fill="none" stroke="#00ffff" stroke-width="2" shape-rendering="crispEdges"/>
<polyline points="802,260.5 806,260.5 808,262 810,262" fill="none" stroke="#00ff00" stroke-width="2" shape-rendering="crispEdges"/>
<g shape-rendering="crispEdges">
<rect x="802" y="363" width="5" height="5" fill="#ff0000" />
<rect x="806" y="364" width="4" height="5" fill="#ff0000" />
<rect x="803" y="367" width="4" height="1" fill="#ff8000" />
</g>
</svg></body></html>
